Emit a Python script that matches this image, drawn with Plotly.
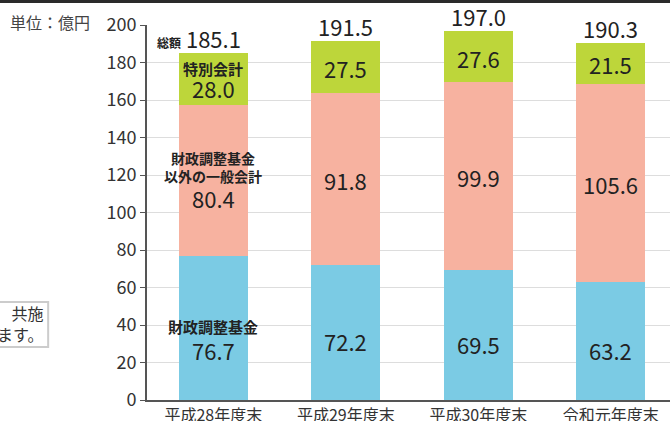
import plotly.graph_objects as go

categories = ["平成28年度末", "平成29年度末", "平成30年度末", "令和元年度末"]
fund = [76.7, 72.2, 69.5, 63.2]          # 財政調整基金
general = [80.4, 91.8, 99.9, 105.6]      # 財政調整基金以外の一般会計
special = [28.0, 27.5, 27.6, 21.5]       # 特別会計
totals = [185.1, 191.5, 197.0, 190.3]
y_ticks = [0, 20, 40, 60, 80, 100, 120, 140, 160, 180, 200]

C_FUND = "#7bcbe4"
C_GEN = "#f7b2a0"
C_SPE = "#bdd63a"
FONT = "Noto Sans CJK JP"
TXT = "#222222"

fig = go.Figure()
for vals, col, name in [(fund, C_FUND, "財政調整基金"), (general, C_GEN, "財政調整基金以外の一般会計"), (special, C_SPE, "特別会計")]:
    fig.add_trace(go.Bar(x=categories, y=vals, name=name, marker=dict(color=col, line=dict(width=0)),
                         width=0.52, hoverinfo="skip"))

anns = []
for i, cat in enumerate(categories):
    b1 = fund[i]
    b2 = fund[i] + general[i]
    b3 = b2 + special[i]
    m1 = b1 / 2
    m2 = b1 + general[i] / 2
    m3 = b2 + special[i] / 2
    if i == 0:
        anns.append(dict(x=cat, y=m1, text="<b>財政調整基金</b>", yshift=2, font=dict(size=15, color=TXT)))
        anns.append(dict(x=cat, y=m1, text=f"{fund[i]:.1f}", yshift=-22, font=dict(size=22, color=TXT)))
        anns.append(dict(x=cat, y=m2, text="<b>財政調整基金<br>以外の一般会計</b>", yshift=14, font=dict(size=14, color=TXT)))
        anns.append(dict(x=cat, y=m2, text=f"{general[i]:.1f}", yshift=-17, font=dict(size=22, color=TXT)))
        anns.append(dict(x=cat, y=m3, text="<b>特別会計</b>", yshift=11, font=dict(size=15, color=TXT)))
        anns.append(dict(x=cat, y=m3, text=f"{special[i]:.1f}", yshift=-9, font=dict(size=22, color=TXT)))
        anns.append(dict(x=cat, y=b3, yanchor="bottom", xshift=-14, yshift=-3,
                         text=f'<b><span style="font-size:12px">総額</span></b> {totals[i]:.1f}',
                         font=dict(size=22, color=TXT)))
    else:
        anns.append(dict(x=cat, y=m1, text=f"{fund[i]:.1f}", yshift=-9, font=dict(size=22, color=TXT)))
        anns.append(dict(x=cat, y=m2, text=f"{general[i]:.1f}", yshift=-1, font=dict(size=22, color=TXT)))
        anns.append(dict(x=cat, y=m3, text=f"{special[i]:.1f}", yshift=-1, font=dict(size=22, color=TXT)))
        anns.append(dict(x=cat, y=b3, yanchor="bottom", yshift=-3, text=f"{totals[i]:.1f}",
                         font=dict(size=22, color=TXT)))
for a in anns:
    a.update(xref="x", yref="y", showarrow=False, font=dict(family=FONT, **a["font"]))
    a.setdefault("yanchor", "middle")

# unit label
anns.append(dict(xref="paper", yref="paper", x=-0.266, y=1.008, xanchor="left", yanchor="middle",
                 text="単位：億円", showarrow=False, font=dict(family=FONT, size=16, color="#444444")))
# partial side note (cut off at left edge)
anns.append(dict(xref="paper", yref="paper", x=-0.195, y=0.2027, xanchor="right", yanchor="middle",
                 align="right", text="共施<br>ます。", showarrow=False,
                 font=dict(family=FONT, size=16, color="#333333")))

shapes = [
    dict(type="rect", xref="paper", yref="paper", x0=-0.3, x1=1.02, y0=(400 - 3) / 375, y1=1.2,
         fillcolor="#2a2a2a", line=dict(width=0), layer="above"),
    dict(type="rect", xref="paper", yref="paper", x0=-0.35, x1=-0.189, y0=(400 - 347) / 375, y1=(400 - 302) / 375,
         fillcolor="white", line=dict(color="#cccccc", width=2), layer="below"),
]

fig.update_layout(
    width=670, height=421,
    margin=dict(l=147, r=0, t=25, b=21),
    barmode="stack",
    showlegend=False,
    plot_bgcolor="white", paper_bgcolor="white",
    font=dict(family=FONT, color="#333333"),
    annotations=anns,
    shapes=shapes,
    xaxis=dict(range=[-0.5, 3.447], showgrid=False, showline=True, linecolor="#555555", linewidth=2,
               ticks="", tickfont=dict(size=16, color="#333333"), fixedrange=True, automargin=False),
    yaxis=dict(range=[0, 200], tickvals=y_ticks, showgrid=True, gridcolor="#dddddd", gridwidth=1,
               showline=True, linecolor="#555555", linewidth=2, ticks="outside", ticklen=5,
               tickcolor="#555555", tickwidth=1, tickfont=dict(size=18, color="#333333"),
               zeroline=False, fixedrange=True, automargin=False),
)

fig.write_html("out.html", config={"displayModeBar": False},
               post_script="document.body.style.margin='0';document.body.style.overflow='hidden';")
